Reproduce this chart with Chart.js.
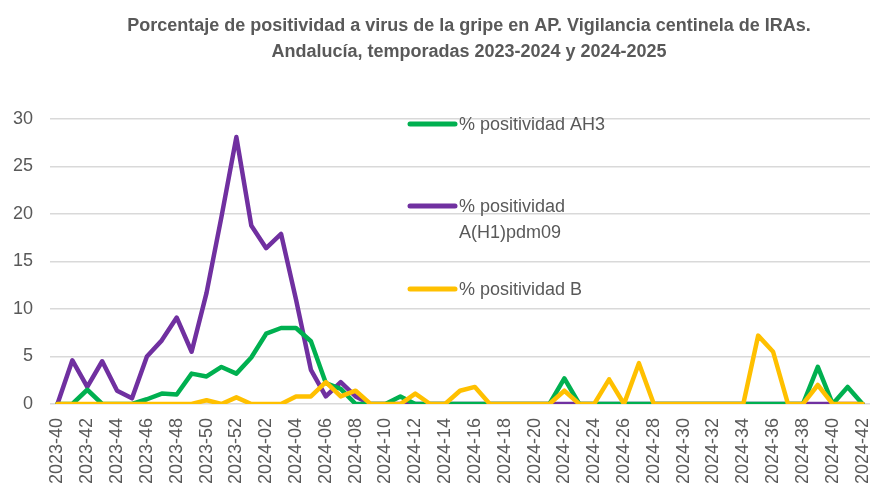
<!DOCTYPE html>
<html>
<head>
<meta charset="utf-8">
<script src="https://cdn.jsdelivr.net/npm/chart.js@4.4.1/dist/chart.umd.min.js"></script>
<style>
    html, body { margin: 0; padding: 0; background: #fff; overflow: hidden; }
    #wrap { width: 872px; height: 486px; }
</style>
</head>
<body>
<div id="wrap"><canvas id="chart" width="872" height="486"></canvas></div>
<script>
const weeks = [
    '2023-40', '2023-41', '2023-42', '2023-43', '2023-44', '2023-45', '2023-46', '2023-47',
    '2023-48', '2023-49', '2023-50', '2023-51', '2023-52',
    '2024-01', '2024-02', '2024-03', '2024-04', '2024-05', '2024-06', '2024-07', '2024-08',
    '2024-09', '2024-10', '2024-11', '2024-12', '2024-13', '2024-14', '2024-15', '2024-16',
    '2024-17', '2024-18', '2024-19', '2024-20', '2024-21', '2024-22', '2024-23', '2024-24',
    '2024-25', '2024-26', '2024-27', '2024-28', '2024-29', '2024-30', '2024-31', '2024-32',
    '2024-33', '2024-34', '2024-35', '2024-36', '2024-37', '2024-38', '2024-39', '2024-40',
    '2024-41', '2024-42'
];

// % positividad AH3
const ah3 = [
    0, 0, 1.5, 0, 0, 0, 0.5, 1.1, 1.0, 3.2, 2.9, 3.9, 3.2,
    4.9, 7.4, 8.0, 8.0, 6.6, 2.2, 1.6, 0, 0, 0, 0.8, 0, 0, 0, 0, 0,
    0, 0, 0, 0, 0, 2.7, 0, 0, 0, 0, 0, 0, 0, 0, 0, 0,
    0, 0, 0, 0, 0, 0, 3.9, 0, 1.8, 0
];

// % positividad A(H1)pdm09
const h1 = [
    0, 4.6, 1.8, 4.5, 1.4, 0.6, 5.0, 6.7, 9.1, 5.5, 11.7, 19.7, 28.1,
    18.8, 16.4, 17.9, 11.0, 3.6, 0.8, 2.3, 0.8, 0, 0, 0, 0, 0, 0, 0, 0,
    0, 0, 0, 0, 0, 0, 0, 0, 0, 0, 0, 0, 0, 0, 0, 0,
    0, 0, 0, 0, 0, 0, 0, 0, 0, 0
];

// % positividad B
const fluB = [
    0, 0, 0, 0, 0, 0, 0, 0, 0, 0, 0.4, 0, 0.7,
    0, 0, 0, 0.8, 0.8, 2.3, 0.8, 1.4, 0, 0, 0, 1.1, 0, 0, 1.4, 1.8,
    0, 0, 0, 0, 0, 1.4, 0, 0, 2.6, 0, 4.3, 0, 0, 0, 0, 0,
    0, 0, 7.2, 5.5, 0, 0, 2.0, 0, 0, 0
];

const yTicks = [0, 5, 10, 15, 20, 25, 30];

const GREEN = '#00B050';
const PURPLE = '#7030A0';
const YELLOW = '#FFC000';
const TEXT = '#595959';

const titleLines = [
    'Porcentaje de positividad a virus de la gripe en AP. Vigilancia centinela de IRAs.',
    'Andalucía, temporadas 2023-2024 y 2024-2025'
];

const legendItems = [
    { color: GREEN, lines: ['% positividad AH3'], y: 124 },
    { color: PURPLE, lines: ['% positividad', 'A(H1)pdm09'], y: 206 },
    { color: YELLOW, lines: ['% positividad B'], y: 289 }
];

// titulo y leyenda dibujados a mano, como en el grafico original
const decorPlugin = {
    id: 'decor',
    afterDraw(chart) {
        const ctx = chart.ctx;
        ctx.save();
        ctx.fillStyle = TEXT;
        ctx.textAlign = 'center';
        ctx.textBaseline = 'alphabetic';
        let size = 19;
        ctx.font = `bold ${size}px "Liberation Sans"`;
        while (ctx.measureText(titleLines[0]).width > 686 && size > 10) {
            size -= 0.25;
            ctx.font = `bold ${size}px "Liberation Sans"`;
        }
        ctx.fillText(titleLines[0], 469, 31);
        ctx.fillText(titleLines[1], 469, 57);

        ctx.font = '18px "Liberation Sans"';
        ctx.textAlign = 'left';
        ctx.textBaseline = 'middle';
        legendItems.forEach(item => {
            ctx.strokeStyle = item.color;
            ctx.lineWidth = 5;
            ctx.lineCap = 'round';
            ctx.beginPath();
            ctx.moveTo(410, item.y);
            ctx.lineTo(455, item.y);
            ctx.stroke();
            item.lines.forEach((t, i) => {
                ctx.fillText(t, 459, item.y + 1 + i * 26);
            });
        });
        ctx.restore();
    }
};

const lineDs = (label, data, color, order) => ({
    label,
    data,
    borderColor: color,
    backgroundColor: color,
    borderWidth: 4.5,
    pointRadius: 0,
    pointHoverRadius: 0,
    tension: 0,
    borderJoinStyle: 'round',
    borderCapStyle: 'round',
    order
});

new Chart(document.getElementById('chart').getContext('2d'), {
    type: 'line',
    data: {
        labels: weeks,
        datasets: [
            lineDs('% positividad AH3', ah3, GREEN, 2),
            lineDs('% positividad A(H1)pdm09', h1, PURPLE, 3),
            lineDs('% positividad B', fluB, YELLOW, 1)
        ]
    },
    options: {
        responsive: false,
        animation: false,
        layout: {
            padding: { top: 119, right: 2, left: 0, bottom: 0 }
        },
        plugins: {
            legend: { display: false },
            title: { display: false },
            tooltip: { enabled: false }
        },
        scales: {
            x: {
                offset: true,
                grid: { display: false, drawTicks: false },
                border: { display: false },
                afterFit: (scale) => {
                    scale.height = 82;
                    scale.paddingLeft = 0;
                    scale.paddingRight = 0;
                },
                ticks: {
                    autoSkip: false,
                    minRotation: 90,
                    maxRotation: 90,
                    padding: 14,
                    color: TEXT,
                    font: { family: '"Liberation Sans"', size: 18 },
                    callback: function(value, index) {
                        return index % 2 === 0 ? weeks[index] : '';
                    }
                }
            },
            y: {
                min: 0,
                max: 30,
                afterFit: (scale) => { scale.width = 50; },
                afterBuildTicks: (scale) => {
                    scale.ticks = yTicks.map(v => ({ value: v }));
                },
                grid: { color: '#D9D9D9', lineWidth: 1.5, drawTicks: false },
                border: { display: false },
                ticks: {
                    padding: 17,
                    color: TEXT,
                    font: { family: '"Liberation Sans"', size: 18 }
                }
            }
        }
    },
    plugins: [decorPlugin]
});
</script>
</body>
</html>
